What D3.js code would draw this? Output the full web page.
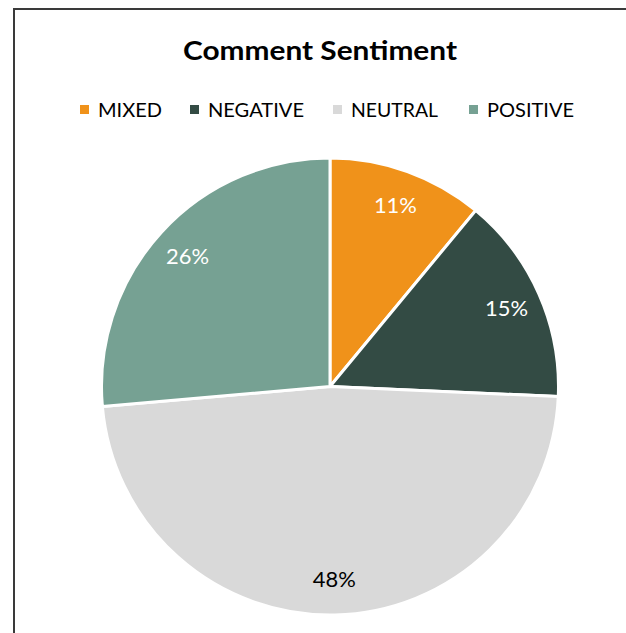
<!DOCTYPE html>
<html>
<head>
<meta charset="utf-8">
<script src="https://cdn.jsdelivr.net/npm/d3@7"></script>
<style>
  html, body { margin: 0; padding: 0; background: #fff; }
  svg { display: block; }
</style>
</head>
<body>
<svg id="chart" width="626" height="633"></svg>
<script>
const title = "Comment Sentiment";
const categories = ["MIXED", "NEGATIVE", "NEUTRAL", "POSITIVE"];
const values = [11.0, 14.7, 47.9, 26.4];
const colors = ["#F0921A", "#334B44", "#D9D9D9", "#76A193"];
const labelColors = ["#FFFFFF", "#FFFFFF", "#000000", "#FFFFFF"];

const FONT = "Lato, 'Open Sans', 'Liberation Sans', Arial, sans-serif";

const svg = d3.select("#chart");
const W = 626, H = 633;

// chart frame (extends past right/bottom edges)
svg.append("rect")
  .attr("x", 14).attr("y", 9)
  .attr("width", W + 20).attr("height", H + 20)
  .attr("fill", "#fff")
  .attr("stroke", "#3a3a3a").attr("stroke-width", 2);

function fitWidth(el, target) {
  const w = el.node().getComputedTextLength();
  if (w > 0) el.attr("textLength", target).attr("lengthAdjust", "spacingAndGlyphs");
}

// title
const t = svg.append("text")
  .attr("x", 320).attr("y", 59.5)
  .attr("text-anchor", "middle")
  .attr("font-family", FONT)
  .attr("font-weight", "bold")
  .attr("font-size", 27)
  .attr("fill", "#000")
  .text(title);
fitWidth(t, 274);

// legend
const legendX = [80, 190, 333, 469];
const legendTextW = [64, 96, 87, 87];
const lg = svg.append("g");
categories.forEach((c, i) => {
  lg.append("rect")
    .attr("x", legendX[i]).attr("y", 105)
    .attr("width", 9).attr("height", 9)
    .attr("fill", colors[i]);
  const tx = lg.append("text")
    .attr("x", legendX[i] + 18).attr("y", 116.5)
    .attr("font-family", FONT)
    .attr("font-size", 19.5)
    .attr("fill", "#000")
    .text(c);
  fitWidth(tx, legendTextW[i]);
});

// pie
const cx = 330, cy = 386.5, R = 228.5;
const pie = d3.pie().sort(null).value(d => d)(values);
const arc = d3.arc().innerRadius(0).outerRadius(R);
const labelArc = d3.arc().innerRadius(R * 0.845).outerRadius(R * 0.845);
const total = d3.sum(values);

const g = svg.append("g").attr("transform", `translate(${cx},${cy})`);
g.selectAll("path.slice")
  .data(pie)
  .join("path")
  .attr("class", "slice")
  .attr("d", arc)
  .attr("fill", (d, i) => colors[i])
  .attr("stroke", "#fff")
  .attr("stroke-width", 3)
  .attr("stroke-linejoin", "round");

g.selectAll("text.lbl")
  .data(pie)
  .join("text")
  .attr("class", "lbl")
  .attr("transform", d => `translate(${labelArc.centroid(d)})`)
  .attr("text-anchor", "middle")
  .attr("dy", "0.36em")
  .attr("font-family", FONT)
  .attr("font-size", 22)
  .attr("fill", (d, i) => labelColors[i])
  .text(d => Math.round(d.value / total * 100) + "%")
  .each(function() { fitWidth(d3.select(this), 43); });
</script>
</body>
</html>
